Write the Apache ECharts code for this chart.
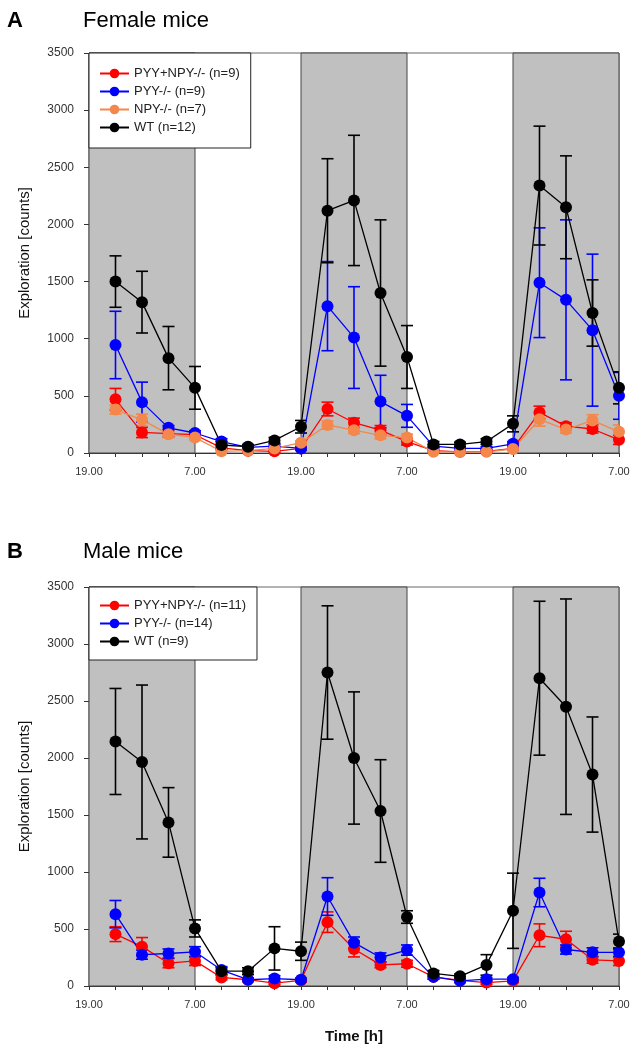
<!DOCTYPE html>
<html><head><meta charset="utf-8">
<script src="https://cdn.jsdelivr.net/npm/echarts@6/dist/echarts.min.js"></script>
<style>html,body{margin:0;padding:0;background:#fff}#c{width:639px;height:1050px}</style>
</head><body><div id="c"></div>
<script>
// Time points: hours after 19.00 of the first night (every 3 h)
const hours = [3,6,9,12,15,18,21,24,27,30,33,36,39,42,45,48,51,54,57,60];
const tickLabels = {0:'19.00', 12:'7.00', 24:'19.00', 36:'7.00', 48:'19.00', 60:'7.00'};
const darkPeriods = [[0,12],[24,36],[48,60]];

// Panel A: female mice
const fDKO    = [470,180,170,160,45,20,15,40,385,265,200,100,20,10,15,40,355,235,210,115];
const fDKOErr = [95,45,30,20,15,10,10,15,60,40,40,30,10,10,10,15,55,30,35,40];
const fPYY    = [945,445,220,175,100,50,60,40,1285,1010,450,325,60,40,40,80,1490,1340,1075,500];
const fPYYErr = [295,175,20,20,25,15,15,15,390,445,230,100,15,15,15,20,480,700,665,205];
const fNPY    = [380,290,165,135,15,20,40,90,245,200,155,135,10,10,10,35,295,205,285,185];
const fNPYErr = [40,50,30,20,10,10,15,15,35,30,30,30,10,10,10,10,60,30,50,60];
const fWT     = [1500,1320,830,570,70,55,110,230,2120,2210,1400,840,75,75,100,255,2340,2150,1225,570];
const fWTErr  = [225,270,277,187,30,20,25,55,455,570,640,275,25,20,25,70,520,450,290,140];

// Panel B: male mice
const mDKO    = [455,345,200,220,75,55,25,50,560,325,185,195,80,50,30,45,445,410,230,220];
const mDKOErr = [65,80,40,40,20,15,15,15,90,70,25,30,20,15,15,15,100,70,30,40];
const mPYY    = [630,275,285,300,140,55,65,55,785,380,250,315,80,45,60,60,820,320,295,295];
const mPYYErr = [120,40,40,45,30,15,25,15,165,50,40,45,20,15,15,15,125,40,40,40];
const mWT     = [2145,1965,1435,505,130,130,330,305,2750,2000,1535,605,110,85,185,660,2700,2450,1855,390];
const mWTErr  = [465,675,305,75,30,30,190,80,585,580,450,55,25,20,90,330,675,945,505,65];

const RED='#ff0000', BLUE='#0000ff', ORANGE='#f4874b', BLACK='#000000';
const FONT='Liberation Sans, Arial, sans-serif';

function pairs(v){ return hours.map((h,i)=>[h,v[i]]); }
function triples(v,e){ return hours.map((h,i)=>[h,v[i],e[i]]); }

function errRender(color){
  return function(params, api){
    const x=api.value(0), y=api.value(1), e=api.value(2);
    const t=api.coord([x,y+e]), b=api.coord([x,y-e]);
    const w=6, st={stroke:color,lineWidth:1.6};
    return {type:'group',children:[
      {type:'line',shape:{x1:t[0],y1:t[1],x2:b[0],y2:b[1]},style:st},
      {type:'line',shape:{x1:t[0]-w,y1:t[1],x2:t[0]+w,y2:t[1]},style:st},
      {type:'line',shape:{x1:b[0]-w,y1:b[1],x2:b[0]+w,y2:b[1]},style:st}
    ]};
  };
}

function group(name, vals, errs, color, gi, withBands){
  const out=[{
    name:'err '+name, type:'custom', xAxisIndex:gi, yAxisIndex:gi, clip:true,
    renderItem:errRender(color), data:triples(vals,errs), silent:true
  },{
    name:name, type:'line', xAxisIndex:gi, yAxisIndex:gi, data:pairs(vals),
    symbol:'circle', symbolSize:12, color:color,
    itemStyle:{color:color}, lineStyle:{color:color,width:1.3}, animation:false
  }];
  if(withBands){
    out[1].markArea={silent:true, itemStyle:{color:'#c0c0c0',borderColor:'#444',borderWidth:1},
      data:darkPeriods.map(p=>[{xAxis:p[0]},{xAxis:p[1]}])};
  }
  return out;
}

function xAxis(gi, showName){
  return {type:'value', gridIndex:gi, min:0, max:60, interval:3,
    axisLine:{lineStyle:{color:'#333',width:1}},
    axisTick:{length:4,lineStyle:{color:'#333'}},
    axisLabel:{formatter:v=>tickLabels[v]||'', color:'#333', fontSize:11, fontFamily:FONT, margin:13, showMinLabel:true, showMaxLabel:true},
    splitLine:{show:false},
    name: showName?'Time [h]':'', nameLocation:'middle', nameGap:43,
    nameTextStyle:{fontSize:15,fontWeight:'bold',color:'#111',fontFamily:FONT}};
}
function yAxis(gi){
  return {type:'value', gridIndex:gi, min:0, max:3500, interval:500,
    axisLine:{show:true,lineStyle:{color:'#333',width:1}},
    axisTick:{show:true,length:5,lineStyle:{color:'#333'}},
    axisLabel:{formatter:v=>String(v),color:'#333',fontSize:12,fontFamily:FONT,margin:15},
    splitLine:{show:false},
    name:'Exploration [counts]', nameLocation:'middle', nameGap:57,
    nameTextStyle:{fontSize:15,color:'#111',fontFamily:FONT}};
}
function legend(names, top, padV){
  return {data:names, orient:'vertical', left:89, top:top, itemGap:5, itemWidth:29, itemHeight:12,
    padding:[padV,11,padV,10], backgroundColor:'#fff', borderColor:'#222', borderWidth:1, borderRadius:0,
    textStyle:{fontSize:13,color:'#222',fontFamily:FONT}, selectedMode:false, z:10};
}

const fNames=['PYY+NPY-/- (n=9)','PYY-/- (n=9)','NPY-/- (n=7)','WT (n=12)'];
const mNames=['PYY+NPY-/- (n=11)','PYY-/- (n=14)','WT (n=9)'];

const series=[].concat(
  group(fNames[0],fDKO,fDKOErr,RED,0,true),
  group(fNames[1],fPYY,fPYYErr,BLUE,0,false),
  group(fNames[2],fNPY,fNPYErr,ORANGE,0,false),
  group(fNames[3],fWT,fWTErr,BLACK,0,false),
  group(mNames[0],mDKO,mDKOErr,RED,1,true),
  group(mNames[1],mPYY,mPYYErr,BLUE,1,false),
  group(mNames[2],mWT,mWTErr,BLACK,1,false)
);

const chart=echarts.init(document.getElementById('c'),null,{renderer:'canvas'});
chart.setOption({
  animation:false,
  backgroundColor:'#fff',
  title:[
    {text:'A',left:7,top:10,padding:0,textStyle:{fontSize:22,fontWeight:'bold',color:'#000',fontFamily:FONT}},
    {text:'Female mice',left:83,top:10,padding:0,textStyle:{fontSize:22,fontWeight:'normal',color:'#000',fontFamily:FONT}},
    {text:'B',left:7,top:541,padding:0,textStyle:{fontSize:22,fontWeight:'bold',color:'#000',fontFamily:FONT}},
    {text:'Male mice',left:83,top:541,padding:0,textStyle:{fontSize:22,fontWeight:'normal',color:'#000',fontFamily:FONT}}
  ],
  grid:[
    {left:89,top:53,width:530,height:400,show:true,borderColor:'#666',borderWidth:1,backgroundColor:'transparent'},
    {left:89,top:587,width:530,height:399,show:true,borderColor:'#666',borderWidth:1,backgroundColor:'transparent'}
  ],
  legend:[legend(fNames,53,14),legend(mNames,587,12)],
  xAxis:[xAxis(0,false),xAxis(1,true)],
  yAxis:[yAxis(0),yAxis(1)],
  series:series
});
</script></body></html>
